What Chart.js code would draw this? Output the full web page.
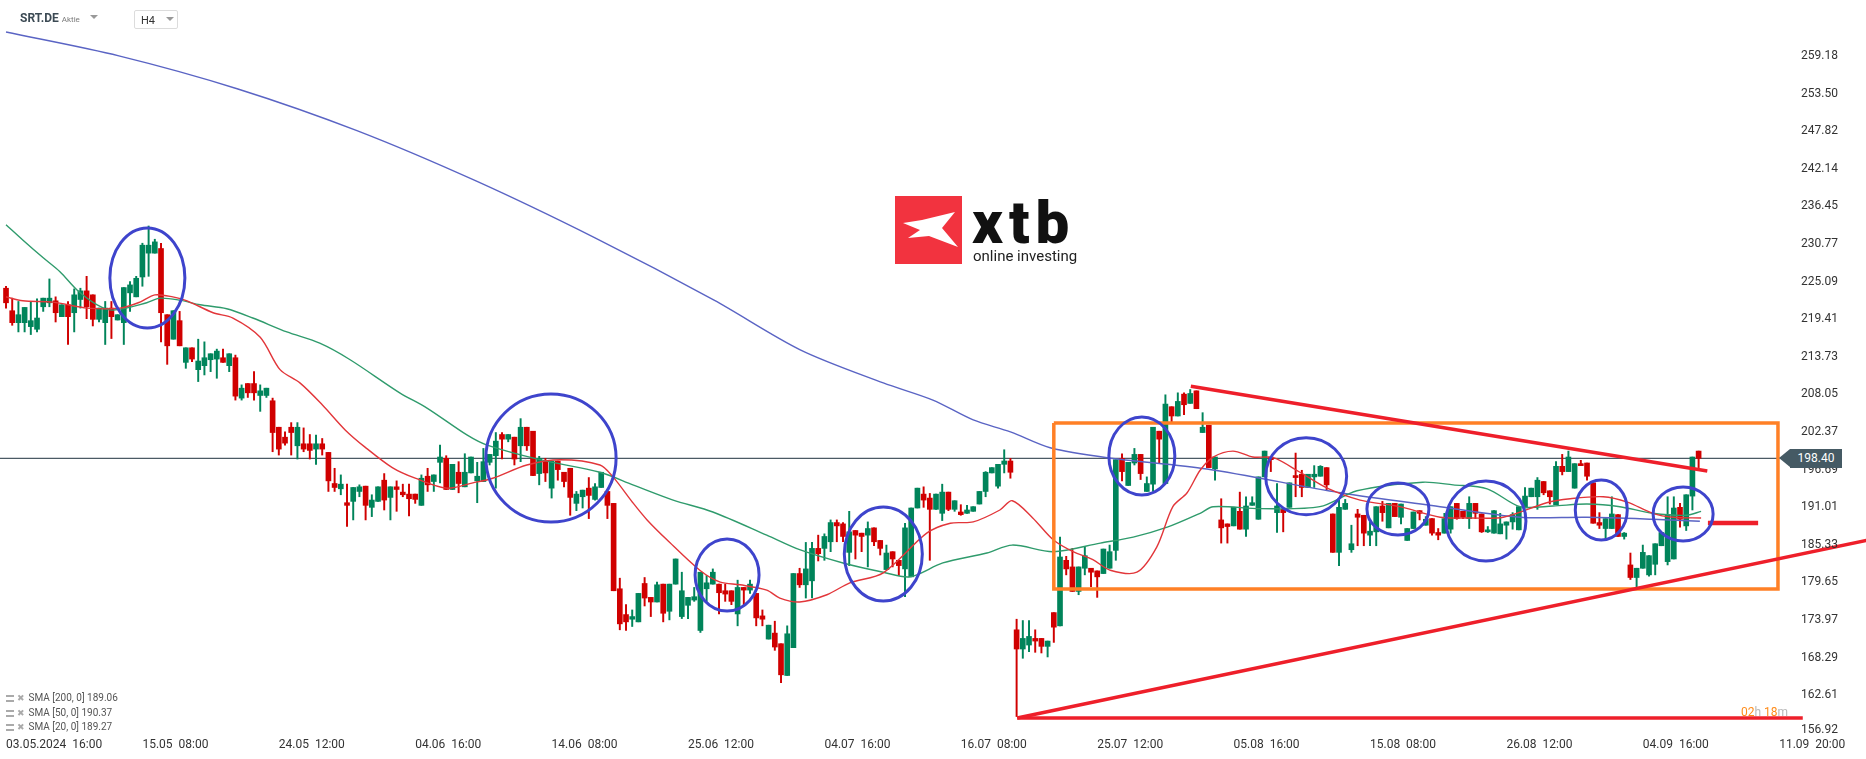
<!DOCTYPE html>
<html lang="de">
<head>
    <meta charset="UTF-8">
    <title>SRT.DE H4</title>
    <script src="https://cdn.jsdelivr.net/npm/chart.js"></script>
    <style>
        body {
            margin: 0;
            background: #ffffff;
            font-family: Roboto, Arial, sans-serif;
        }
        .wrap {
            position: relative;
            width: 1866px;
            height: 759px;
            overflow: hidden;
        }
        #chart { position: absolute; left: 0; top: 0; width: 1866px; height: 759px; }
        .abs { position: absolute; white-space: nowrap; }
        #sym { left: 20px; top: 11px; font-size: 12px; font-weight: 700; color: #3c4a54; }
        #sym span { font-size: 8px; font-weight: 400; color: #7a7a7a; margin-left: 3px; }
        .tri { width: 0; height: 0; border-left: 4px solid transparent; border-right: 4px solid transparent; border-top: 4px solid #999; }
        #tf { left: 134px; top: 10px; width: 42px; height: 17px; border: 1px solid #dcdcdc; border-radius: 2px; }
        #tf b { position: absolute; left: 6px; top: 3px; font-size: 11px; font-weight: 400; color: #333; }
        #logoBox { left: 895px; top: 196px; width: 67px; height: 68px; background: #f2333f; }
        #logoTxt { left: 972px; top: 200px; font-size: 60px; line-height: 46px; font-weight: 900; letter-spacing: 6px; color: #111; }
        #logoSub { left: 973px; top: 249px; font-size: 15px; line-height: 14px; color: #222; }
        .leg { left: 6px; font-size: 10px; color: #555; line-height: 12px; }
        .leg i { display: inline-block; width: 8px; height: 7px; border-top: 2px solid #aaa; border-bottom: 2px solid #aaa; box-sizing: border-box; vertical-align: middle; margin-right: 3px; position: relative; }
        .leg em { font-style: normal; font-family: "DejaVu Sans", sans-serif; color: #aaa; font-size: 9px; margin-right: 4px; }
        #tag { left: 1790px; top: 449px; width: 52px; height: 19px; background: #455a64; color: #fff; font-size: 12px; line-height: 19px; text-align: center; }
        #tagTip { left: 1779px; top: 449px; width: 0; height: 0; border-top: 9.5px solid transparent; border-bottom: 9.5px solid transparent; border-right: 11px solid #455a64; }
        #timer { left: 1741px; top: 705px; font-size: 12px; color: #ff8c1a; }
        #timer span { color: #b8b8b8; }
    </style>
</head>
<body>
<div class="wrap">
    <canvas id="chart" width="1866" height="759"></canvas>

    <div id="sym" class="abs">SRT.DE<span>Aktie</span></div>
    <div class="abs tri" style="left:90px; top:15px;"></div>
    <div id="tf" class="abs"><b>H4</b><div class="abs tri" style="left:31px; top:6px;"></div></div>

    <div id="logoBox" class="abs">
        <svg width="67" height="68" viewBox="0 0 67 68">
            <polygon points="8,27 27,24 60,16 47,32 63,51 34,40 13,42 25,34" fill="#ffffff"/>
        </svg>
    </div>
    <div id="logoTxt" class="abs">xtb</div>
    <div id="logoSub" class="abs">online investing</div>

    <div class="abs leg" style="top:692px;"><i></i><em>✖</em>SMA [200, 0] 189.06</div>
    <div class="abs leg" style="top:707px;"><i></i><em>✖</em>SMA [50, 0] 190.37</div>
    <div class="abs leg" style="top:721px;"><i></i><em>✖</em>SMA [20, 0] 189.27</div>

    <div id="tagTip" class="abs"></div>
    <div id="tag" class="abs">198.40</div>
    <div id="timer" class="abs">02<span>h</span> 18<span>m</span></div>
</div>

<script>
    // Kerzen (H4), Index 0 = 03.05.2024 16:00
    const opens = [
        224.1,220.7,218.9,218.9,218.3,217.9,221.3,221.9,222.2,219.8,
        221.6,220.4,222.4,223.7,223.1,219.4,218.9,221.1,219.3,218.9,
        223.4,222.8,225.8,229.4,229.4,230.1,220.1,216.4,219.2,212.9,
        215.1,211.8,212.4,213.3,213.4,213.6,212.4,213.6,207.5,209.7,
        209.7,207.9,207.9,207.1,203.1,201.6,203.1,200.3,200.6,200.6,
        199.8,200.6,199.3,194.6,193.8,191.7,191.9,193.4,194.2,191.0,
        191.9,195.1,192.5,194.1,193.3,193.0,193.0,191.3,195.7,194.9,
        197.8,198.4,193.7,196.3,194.1,196.2,195.0,194.9,197.8,198.8,
        202.0,201.3,201.6,200.3,203.1,202.5,196.1,198.0,193.9,198.0,
        196.3,196.9,191.6,192.6,193.9,192.2,194.0,193.4,191.6,178.7,
        174.8,174.1,173.7,179.5,177.4,176.7,179.4,175.3,179.4,174.5,
        176.2,177.0,172.4,178.7,179.4,179.4,178.4,178.4,174.9,178.9,
        178.5,178.0,174.6,171.1,172.0,170.4,165.6,169.8,181.0,179.3,
        179.9,184.8,184.8,185.8,188.7,188.5,184.2,187.5,187.1,186.8,
        187.9,186.0,181.6,184.3,183.0,181.7,180.5,190.9,193.0,192.4,
        190.7,190.1,193.3,190.7,190.3,190.1,190.4,191.5,193.4,196.2,
        194.2,197.5,198.0,172.5,169.6,170.2,171.2,171.2,170.0,175.1,
        173.1,183.0,182.0,178.3,181.8,181.8,181.4,181.0,181.8,184.5,
        198.4,194.3,197.7,199.0,193.4,194.5,202.5,194.6,206.2,204.8,
        208.1,206.7,208.6,202.3,203.4,196.8,189.1,188.5,188.2,190.4,
        187.7,191.3,189.2,195.6,198.6,190.2,190.7,191.0,195.8,196.0,
        194.0,195.6,195.7,197.0,190.0,184.2,190.7,184.6,190.0,189.8,
        186.8,187.3,191.2,187.9,191.6,189.5,186.0,187.8,190.5,188.3,
        189.3,187.2,187.1,187.7,191.6,190.4,189.3,191.6,190.0,187.3,
        187.1,187.0,188.3,188.8,187.6,190.9,192.6,192.6,194.9,193.5,
        191.4,197.2,196.4,193.9,197.6,197.7,194.7,188.7,187.8,187.8,
        189.9,186.6,182.3,180.4,181.8,180.8,182.4,185.2,182.8,183.2,
        191.0,188.2,192.7,199.5
    ];
    const highs = [
        224.4,222.6,222.1,221.2,222.1,222.5,222.6,225.5,222.8,221.6,
        222.1,224.0,224.1,225.9,223.1,221.1,222.1,222.1,220.1,224.2,
        225.1,225.9,230.9,233.5,231.5,230.9,220.1,220.7,220.6,215.1,
        215.1,216.4,216.0,214.2,214.9,214.9,214.2,214.0,209.5,209.7,
        211.5,209.5,209.0,207.5,203.1,202.4,203.8,203.8,203.0,202.0,
        201.9,201.4,199.3,196.9,195.9,194.5,194.0,194.4,194.2,192.9,
        194.1,196.1,194.1,195.0,194.5,194.5,193.0,195.9,196.9,195.9,
        200.4,198.8,197.5,197.9,199.1,198.6,197.8,199.9,199.0,202.3,
        202.3,202.0,201.6,204.4,203.1,202.5,198.7,198.4,198.0,198.0,
        196.3,196.9,193.4,193.6,195.5,194.6,196.3,193.4,191.6,180.3,
        176.3,175.5,178.0,180.4,177.4,179.7,179.4,179.4,183.2,181.2,
        177.4,178.9,181.2,180.7,181.7,179.4,179.4,178.4,180.0,178.9,
        180.0,178.0,175.5,173.2,173.8,170.4,173.1,181.0,181.8,185.7,
        185.7,186.8,187.0,189.1,189.1,188.7,190.4,187.5,187.1,188.8,
        187.9,186.0,185.3,184.3,183.0,188.6,190.9,193.9,194.1,193.1,
        193.0,194.5,193.3,192.0,191.4,191.3,191.1,193.4,196.4,197.0,
        197.5,199.7,198.4,174.1,173.9,173.9,172.5,171.2,170.8,175.1,
        186.5,183.6,184.8,182.0,185.1,181.8,181.4,184.7,185.3,198.2,
        199.1,197.8,199.9,199.0,195.6,203.1,202.5,208.0,206.2,208.3,
        208.3,208.8,208.6,205.3,203.4,198.6,192.3,188.5,191.0,193.3,
        192.6,192.6,195.6,199.5,198.6,194.6,190.7,194.7,199.2,196.6,
        196.0,197.3,197.3,197.0,190.0,192.1,192.2,188.3,190.7,189.8,
        188.8,191.1,191.9,191.6,191.6,191.5,187.8,190.3,190.5,189.6,
        189.3,187.8,190.1,191.1,191.6,190.4,192.6,191.6,190.0,188.1,
        190.5,190.1,188.8,190.2,191.1,194.0,193.9,195.5,194.9,193.5,
        197.9,199.0,199.5,197.6,198.1,197.7,194.7,190.2,189.3,192.6,
        189.9,187.2,184.1,181.8,185.3,183.7,185.5,187.2,192.6,192.6,
        191.6,192.9,198.6,199.5
    ];
    const lows = [
        221.1,218.5,217.5,217.5,217.1,217.5,220.6,221.3,219.0,219.8,
        215.6,217.5,221.1,219.5,218.4,219.0,215.6,216.5,219.3,215.6,
        220.6,222.8,224.4,225.9,229.4,216.0,212.6,216.4,215.4,212.0,
        213.0,210.0,211.0,211.5,210.5,212.9,211.5,207.2,207.2,207.6,
        207.2,205.5,207.6,199.4,198.9,200.4,198.9,198.3,199.4,198.3,
        197.5,198.9,193.4,193.4,192.9,188.1,189.1,192.6,189.1,189.6,
        191.9,190.6,189.1,190.4,192.6,189.7,191.6,191.3,193.4,193.4,
        194.7,193.7,193.7,193.2,194.1,196.2,191.7,194.9,197.4,193.9,
        198.3,200.9,197.4,197.9,199.6,195.8,194.4,194.9,192.4,195.1,
        194.1,189.8,190.5,190.9,189.3,192.1,194.0,189.3,178.4,172.5,
        172.4,173.0,173.7,176.1,174.5,176.7,173.7,174.0,179.4,174.2,
        174.2,176.8,172.1,176.8,179.4,174.9,176.8,176.3,173.1,176.3,
        178.0,173.1,173.1,171.1,169.4,164.5,165.6,169.8,178.9,177.3,
        177.3,182.9,183.0,184.3,185.8,185.8,182.2,183.2,184.3,182.0,
        185.2,183.8,181.6,182.0,180.7,177.5,180.5,190.9,191.0,183.0,
        190.7,189.0,190.5,190.4,189.8,190.1,190.4,191.5,192.6,196.2,
        193.9,196.2,195.4,159.4,168.2,169.2,169.1,169.0,168.4,170.6,
        173.1,180.8,178.3,177.8,180.8,179.0,177.4,181.0,181.8,183.0,
        195.0,194.3,197.4,195.2,193.4,193.4,197.7,194.6,203.9,204.8,
        205.0,206.7,205.9,202.3,197.0,195.1,185.6,185.6,188.2,187.7,
        186.6,191.3,189.2,195.6,196.4,187.2,187.3,191.0,192.6,192.6,
        194.0,194.0,195.7,193.6,184.2,182.2,190.7,184.2,185.2,185.2,
        185.2,185.2,188.9,187.9,189.6,188.5,186.0,187.8,189.1,188.3,
        186.8,186.1,187.1,187.1,189.2,189.3,187.8,189.3,187.2,187.2,
        187.1,187.0,186.2,187.7,187.6,190.9,192.6,190.7,192.9,191.5,
        191.4,195.9,196.4,193.9,197.3,195.1,188.6,187.8,186.2,187.8,
        186.6,186.2,180.1,179.0,181.8,180.6,180.8,185.2,182.3,183.2,
        188.0,187.5,190.6,197.0
    ];
    const closes = [
        221.9,218.9,220.1,221.2,219.2,219.6,222.6,222.6,220.4,221.6,
        219.8,223.1,223.7,221.3,219.4,221.1,221.1,219.8,220.1,224.2,
        224.6,225.6,230.6,230.6,231.1,220.4,215.4,220.7,215.4,215.1,
        213.4,213.1,213.6,214.2,214.6,212.9,214.2,207.8,209.0,208.3,
        208.3,208.6,209.0,202.3,199.8,200.7,202.3,203.1,199.8,199.6,
        200.6,199.8,195.0,194.0,194.5,191.3,194.0,194.1,191.3,192.1,
        194.1,192.1,194.1,193.7,192.9,192.3,192.2,195.4,194.4,195.9,
        198.6,193.7,197.5,194.6,196.3,198.6,195.7,197.9,199.0,201.0,
        201.3,202.0,198.3,203.1,200.3,195.8,198.4,196.2,198.0,196.7,
        194.9,192.5,193.0,193.6,192.8,194.1,196.3,191.3,178.4,173.4,
        173.7,174.5,178.0,177.3,176.7,179.3,175.0,179.4,183.2,178.4,
        177.4,177.5,181.2,179.6,181.2,178.1,177.9,176.8,178.9,178.5,
        179.4,174.3,174.1,173.2,169.9,165.7,171.9,181.0,179.3,181.7,
        184.8,184.0,186.6,188.7,188.2,186.6,187.3,186.8,186.6,187.8,
        185.8,184.8,184.1,183.2,182.2,187.9,190.9,193.9,192.1,190.7,
        193.0,193.3,190.7,192.0,189.9,190.6,191.1,193.4,196.3,197.0,
        197.5,198.0,196.3,169.6,171.2,171.5,170.8,170.0,170.8,172.9,
        183.5,181.7,178.3,182.0,183.7,181.2,180.5,184.7,184.3,198.2,
        196.4,197.8,199.0,196.1,194.6,203.1,201.3,206.6,204.8,207.0,
        206.5,208.2,205.9,203.1,197.0,198.6,187.9,188.1,191.0,187.7,
        191.2,191.7,195.6,199.5,198.2,191.2,190.2,194.7,195.5,194.0,
        196.0,196.0,197.2,194.4,184.2,191.0,191.6,185.5,189.5,187.1,
        187.4,191.1,190.2,191.6,189.6,191.5,187.8,190.3,190.1,189.2,
        187.1,186.8,189.3,191.1,189.3,189.5,191.6,190.1,187.3,187.6,
        190.5,188.5,188.8,189.9,191.1,192.7,193.9,195.1,193.2,192.6,
        197.2,196.4,198.6,197.6,197.3,195.7,188.6,188.3,189.3,190.0,
        186.6,187.1,180.4,181.8,184.2,183.7,185.5,187.2,189.9,190.9,
        189.2,192.9,198.6,198.4
    ];

    // Gleitende Durchschnitte (Kerzenindex / Kurs)
    const sma200Idx = [0, 18.2, 37.4, 56.6, 75.8, 95, 114.2, 128.1, 141.5, 149.5, 156, 162, 168.4, 177.6, 193.7, 215.2, 231.3, 244.2, 255, 265.6, 273.2];
    const sma200Val = [262.8, 259.2, 254.2, 247.9, 240.3, 231.7, 222.3, 214.8, 209.8, 207.2, 204.2, 202.4, 200.0, 198.5, 196.8, 193.2, 191.1, 189.5, 189.5, 189.2, 188.9];

    const sma50Idx = [0, 2.7, 6, 8.7, 11.5, 14.7, 17.3, 22.7, 24.8, 28, 31.3, 35.6, 39.8, 45.3, 50.6, 55.5, 63.5, 67.9, 74.4, 77.6, 86.1, 95.8, 101.1, 107.6, 114, 122.7, 128, 135, 141.5, 145.8, 151.1, 158.2, 162.3, 168.9, 176.5, 181.8, 187.3, 192.6, 194.7, 202.3, 211.9, 217.9, 228.5, 233.4, 238.9, 244.2, 249.5, 255, 260.3, 265.6, 271.1, 273.4];
    const sma50Val = [233.7, 231.4, 228.7, 226.6, 223.8, 221.6, 220.8, 221.9, 222.6, 222.3, 221.6, 221.0, 219.6, 217.5, 215.8, 213.3, 208.3, 206.0, 201.9, 200.4, 198.2, 196.3, 194.4, 192.1, 190.3, 186.8, 184.6, 182.6, 181.2, 180.5, 182.6, 184.1, 185.3, 184.3, 185.6, 186.5, 188.0, 190.1, 191.1, 190.8, 191.1, 193.5, 194.8, 194.4, 193.8, 191.1, 191.2, 191.5, 191.1, 190.1, 189.8, 190.4];

    const sma20Idx = [0, 2.7, 7.6, 13.1, 18.4, 21.6, 24, 26.9, 29.2, 33.4, 36.6, 41, 44.2, 47.4, 51, 54.7, 57.9, 62.3, 66, 71.1, 75.3, 78.5, 84, 89.4, 95.8, 97.9, 101.1, 103.4, 106.6, 111.9, 115.2, 118.4, 122.7, 124.8, 128, 132.4, 136.1, 141.5, 148.5, 152.3, 156, 160.3, 162.3, 165.6, 168.9, 172.1, 175.3, 178.1, 182.4, 185.6, 188.2, 190.5, 192.6, 194.7, 197.9, 201.1, 204.4, 208.7, 213.1, 218.4, 224.8, 231.3, 236.1, 241.5, 248.5, 252.3, 257.6, 261.5, 265.6, 268.9, 273.4];
    const sma20Val = [222.8, 222.2, 222.0, 221.1, 221.1, 222.0, 223.1, 222.8, 222.2, 220.4, 219.6, 216.7, 211.8, 209.8, 206.5, 202.7, 200.1, 197.0, 195.4, 193.9, 194.7, 195.4, 197.4, 198.2, 197.4, 195.6, 191.7, 189.1, 186.1, 181.5, 179.7, 179.3, 178.5, 177.3, 176.7, 177.8, 179.6, 181.1, 187.1, 188.6, 188.8, 190.6, 192.0, 189.4, 186.1, 184.3, 183.1, 181.5, 181.2, 185.0, 191.1, 193.2, 196.6, 198.6, 199.5, 198.6, 198.5, 196.3, 193.9, 192.1, 191.1, 189.5, 189.4, 189.5, 191.7, 192.3, 192.6, 191.8, 190.1, 189.5, 189.4];

    // Achsen
    const priceTicks = [156.92, 162.61, 168.29, 173.97, 179.65, 185.33, 191.01, 196.69, 202.37, 208.05, 213.73, 219.41, 225.09, 230.77, 236.45, 242.14, 247.82, 253.50, 259.18];
    const dateTickIdx = [0, 22, 44, 66, 88, 110, 132, 154, 176, 198, 220, 242, 264, 286];
    const dateTicks = ['03.05.2024  16:00', '15.05  08:00', '24.05  12:00', '04.06  16:00', '14.06  08:00', '25.06  12:00', '04.07  16:00', '16.07  08:00', '25.07  12:00', '05.08  16:00', '15.08  08:00', '26.08  12:00', '04.09  16:00', '11.09  20:00'];
    const lastPrice = 198.40;

    // Zeichnungen (Index / Kurs)
    const boxIdx = [169.0, 285.8, 285.8, 169.0, 169.0];
    const boxVal = [203.74, 203.74, 178.66, 178.66, 203.74];
    const resistIdx = [191.1, 274.4];
    const resistVal = [209.3, 196.5];
    const supportIdx = [163.1, 300.5];
    const supportVal = [159.18, 186.1];
    const floorIdx = [163.1, 289.8];
    const floorVal = [159.18, 159.18];
    const markIdx = [274.5, 282.6];
    const markVal = [188.64, 188.64];

    // Kreise: Mitte (Index, Kurs), Halbachsen (Kerzen, Kurs)
    const circleIdx = [22.8, 87.9, 116.3, 141.5, 183.2, 209.7, 224.5, 238.7, 257.3, 270.5];
    const circleVal = [225.65, 198.45, 180.78, 183.95, 198.76, 195.7, 190.75, 188.94, 190.6, 190.0];
    const circleW = [6.05, 10.5, 5.16, 6.29, 5.32, 6.53, 5.0, 6.45, 4.19, 4.84];
    const circleH = [7.55, 9.67, 5.44, 7.1, 5.89, 5.82, 3.93, 6.04, 4.53, 4.08];

    const UP = '#00845a';
    const DOWN = '#d00000';
    const candleColor = ctx => closes[ctx.dataIndex] >= opens[ctx.dataIndex] ? UP : DOWN;
    const toXY = (idx, val) => idx.map((v, k) => ({ x: v, y: val[k] }));
    const overRight = { left: 0, top: 0, right: 80, bottom: 0 };

    function lineSet(idx, val, color, width, order, extra) {
        return Object.assign({
            type: 'line',
            data: toXY(idx, val),
            borderColor: color,
            borderWidth: width,
            pointRadius: 0,
            fill: false,
            order: order
        }, extra || {});
    }

    const circlePlugin = {
        id: 'circles',
        afterDatasetsDraw(chart) {
            const { ctx, scales: { x, y } } = chart;
            ctx.save();
            ctx.strokeStyle = '#3e44cc';
            ctx.lineWidth = 3;
            circleIdx.forEach((ci, k) => {
                const cx = x.getPixelForValue(ci);
                const cy = y.getPixelForValue(circleVal[k]);
                const rx = x.getPixelForValue(ci + circleW[k]) - cx;
                const ry = cy - y.getPixelForValue(circleVal[k] + circleH[k]);
                ctx.beginPath();
                ctx.ellipse(cx, cy, rx, ry, 0, 0, Math.PI * 2);
                ctx.stroke();
            });
            ctx.restore();
        }
    };

    // Achsenbeschriftung: Datum links an der Kerze, Kurs rechts neben dem Chart
    const axisLabelPlugin = {
        id: 'axisLabels',
        afterDraw(chart) {
            const { ctx, chartArea, scales: { x, y } } = chart;
            ctx.save();
            ctx.font = '12px Roboto, Arial, sans-serif';
            ctx.fillStyle = '#333';
            ctx.textAlign = 'left';
            ctx.textBaseline = 'middle';
            dateTickIdx.forEach((v, k) => {
                ctx.fillText(dateTicks[k], x.getPixelForValue(v), chartArea.bottom + 10);
            });
            priceTicks.forEach(v => {
                const py = Math.min(y.getPixelForValue(v), chartArea.bottom - 5);
                ctx.fillText(v.toFixed(2), chartArea.right + 11, py);
            });
            ctx.restore();
        }
    };

    Chart.defaults.font.family = 'Roboto, Arial, sans-serif';

    const idxs = opens.map((_, i) => i);

    new Chart(document.getElementById('chart'), {
        type: 'bar',
        data: {
            datasets: [
                lineSet([-1, 286], [lastPrice, lastPrice], '#4b5a64', 1.2, 20),
                {
                    data: idxs.map(i => ({ x: i, y: [lows[i], highs[i]] })),
                    backgroundColor: candleColor,
                    barThickness: 1.3,
                    grouped: false,
                    order: 12
                },
                {
                    data: idxs.map(i => ({ x: i, y: [opens[i], closes[i]] })),
                    backgroundColor: candleColor,
                    barThickness: 5,
                    minBarLength: 1,
                    grouped: false,
                    order: 11
                },
                lineSet(sma200Idx, sma200Val, '#5a64c4', 1.4, 6, { tension: 0.3 }),
                lineSet(sma50Idx, sma50Val, '#2f9b6c', 1.4, 5, { tension: 0.3 }),
                lineSet(sma20Idx, sma20Val, '#e2363a', 1.4, 4, { tension: 0.3 }),
                lineSet(boxIdx, boxVal, '#ff8026', 3.5, 3),
                lineSet(resistIdx, resistVal, '#ee1f2a', 3.5, 2),
                lineSet(supportIdx, supportVal, '#ee1f2a', 3.5, 2, { clip: overRight }),
                lineSet(floorIdx, floorVal, '#ee1f2a', 3.5, 2, { clip: overRight }),
                lineSet(markIdx, markVal, '#ee1f2a', 4.5, 2)
            ]
        },
        options: {
            responsive: false,
            animation: false,
            devicePixelRatio: 1,
            layout: { padding: { left: 0, top: 0, right: 76, bottom: 24 }, autoPadding: false },
            plugins: { legend: { display: false }, tooltip: { enabled: false } },
            scales: {
                x: { type: 'linear', display: false, offset: false, min: -0.97, max: 287.74 },
                y: { type: 'linear', display: false, min: 156.61, max: 267.64 }
            }
        },
        plugins: [circlePlugin, axisLabelPlugin]
    });
</script>
</body>
</html>
